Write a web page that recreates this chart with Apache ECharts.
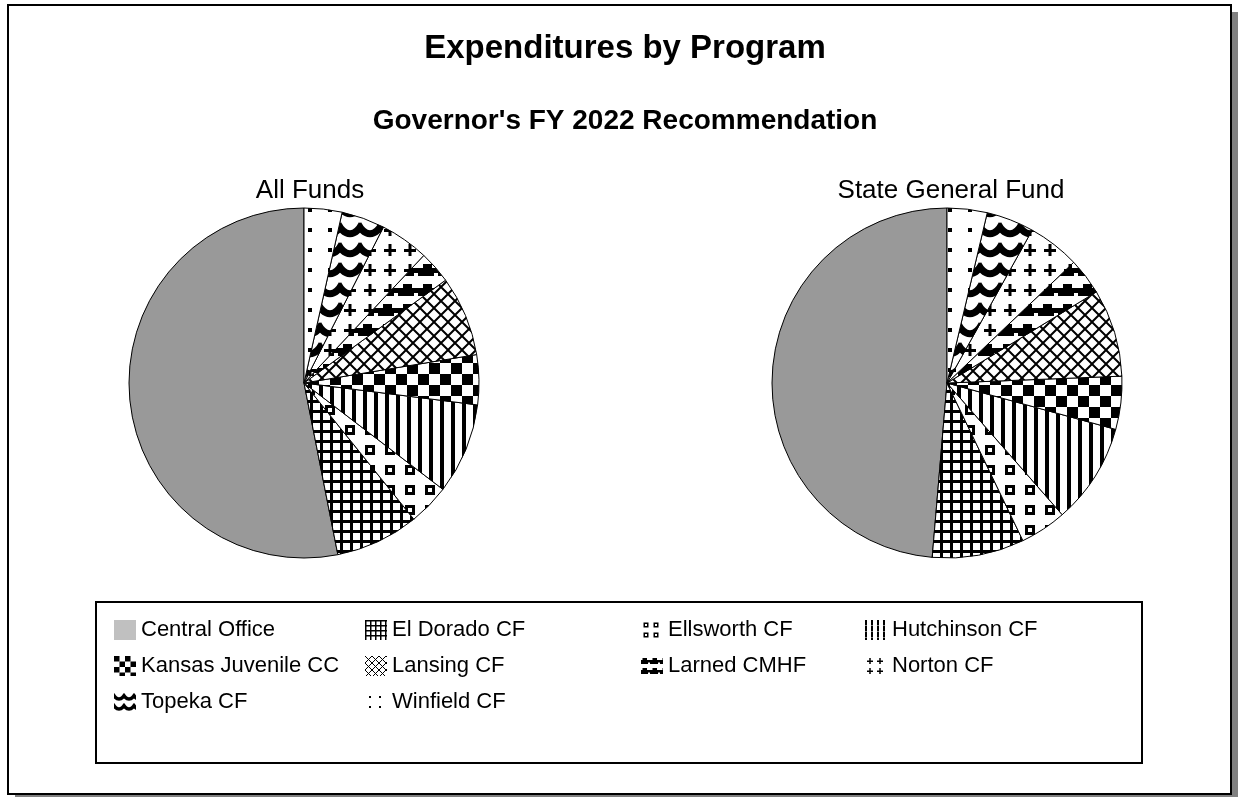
<!DOCTYPE html>
<html>
<head>
<meta charset="utf-8">
<script src="https://cdn.jsdelivr.net/npm/echarts@6/dist/echarts.min.js"></script>
<style>
html,body{margin:0;padding:0;background:#fff;}
#chart{width:1239px;height:797px;}
</style>
</head>
<body>
<div id="chart"></div>
<script>
// ---- data ----
const categories = ['Central Office','El Dorado CF','Ellsworth CF','Hutchinson CF','Kansas Juvenile CC','Lansing CF','Larned CMHF','Norton CF','Topeka CF','Winfield CF'];
const allFunds = [53.1, 7.7, 3.8, 8.4, 4.6, 7.4, 3.0, 4.5, 4.0, 3.5];
const stateGeneralFund = [48.7, 8.5, 4.3, 9.3, 4.9, 8.1, 3.4, 4.8, 4.4, 3.7];
const mainTitle = 'Expenditures by Program';
const subTitle = "Governor's FY 2022 Recommendation";
const pieTitles = ['All Funds', 'State General Fund'];
const legendColumns = [
  ['Central Office', 'Kansas Juvenile CC', 'Topeka CF'],
  ['El Dorado CF', 'Lansing CF', 'Winfield CF'],
  ['Ellsworth CF', 'Larned CMHF'],
  ['Hutchinson CF', 'Norton CF']
];

// ---- patterns ----
function tile(w, h, draw, s) {
  const c = document.createElement('canvas');
  c.width = Math.max(1, Math.round(w * s));
  c.height = Math.max(1, Math.round(h * s));
  const g = c.getContext('2d');
  g.fillStyle = '#fff'; g.fillRect(0, 0, c.width, c.height);
  g.scale(s, s);
  g.fillStyle = '#000'; g.strokeStyle = '#000';
  draw(g);
  return { image: c, repeat: 'repeat' };
}
const drawers = {
  'El Dorado CF': [10, 10, g => { g.fillRect(0, 0, 10, 3); g.fillRect(0, 0, 3, 10); }],
  'Ellsworth CF': [20, 20, g => { g.fillRect(5, 5, 10, 10); g.fillStyle = '#fff'; g.fillRect(8, 8, 4, 4); }],
  'Hutchinson CF': [11, 11, g => { g.fillRect(0, 0, 4, 11); }],
  'Kansas Juvenile CC': [22, 22, g => { g.fillRect(0, 0, 11, 11); g.fillRect(11, 11, 11, 11); }],
  'Lansing CF': [14, 14, g => { g.lineWidth = 2; g.beginPath(); g.moveTo(0, 0); g.lineTo(14, 14); g.moveTo(14, 0); g.lineTo(0, 14); g.stroke(); }],
  'Larned CMHF': [20, 20, g => { g.fillRect(0, 8, 20, 8); g.fillRect(3, 4, 9, 4); g.fillStyle = '#fff'; g.fillRect(14, 13, 4, 3); }],
  'Norton CF': [20, 20, g => { g.fillRect(4, 9, 12, 3); g.fillRect(8.5, 4, 3, 12); }],
  'Topeka CF': [20, 20, g => { g.lineWidth = 7; g.beginPath(); g.moveTo(-2, 4); g.bezierCurveTo(5, 17, 15, 17, 22, 4); g.stroke(); }],
  'Winfield CF': [20, 20, g => { g.fillRect(8, 8, 4, 4); }]
};
function fillFor(name, s, legend) {
  if (name === 'Central Office') return legend ? '#c0c0c0' : '#999999';
  const d = drawers[name];
  return tile(d[0], d[1], d[2], s);
}

const FONT = '"Liberation Sans", Arial, sans-serif';

function pieSeries(values, center) {
  return {
    type: 'pie',
    center: center,
    radius: 175,
    startAngle: 90,
    clockwise: false,
    animation: false,
    label: { show: false },
    labelLine: { show: false },
    emphasis: { disabled: true },
    itemStyle: { borderColor: '#000', borderWidth: 1 },
    data: categories.map((c, i) => ({ name: c, value: values[i], itemStyle: { color: fillFor(c, 1, false) } }))
  };
}

const legendLefts = [109, 360, 636, 860];
const legends = legendColumns.map((col, k) => ({
  orient: 'vertical',
  left: legendLefts[k],
  top: 614,
  itemWidth: 22,
  itemHeight: 20,
  itemGap: 14,
  selectedMode: false,
  icon: 'rect',
  itemStyle: { borderWidth: 0 },
  textStyle: { fontFamily: FONT, fontSize: 22, color: '#000', lineHeight: 22 },
  data: col.map(n => ({ name: n, itemStyle: { color: fillFor(n, 0.5, true), borderWidth: 0 } }))
}));

const chart = echarts.init(document.getElementById('chart'), null, { renderer: 'canvas' });
chart.setOption({
  backgroundColor: '#fff',
  animation: false,
  graphic: [
    { type: 'rect', z: -10, silent: true, shape: { x: 15, y: 12, width: 1223, height: 789 }, style: { fill: '#808080' } },
    { type: 'rect', z: -9, silent: true, shape: { x: 8, y: 5, width: 1223, height: 789 }, style: { fill: '#fff', stroke: '#000', lineWidth: 2 } },
    { type: 'rect', z: -8, silent: true, shape: { x: 96, y: 602, width: 1046, height: 161 }, style: { fill: '#fff', stroke: '#000', lineWidth: 2 } }
  ],
  title: [
    { text: mainTitle, left: 620, top: 27, textAlign: 'center', textStyle: { fontFamily: FONT, fontSize: 33, fontWeight: 'bold', color: '#000' } },
    { text: subTitle, left: 620, top: 102, textAlign: 'center', textStyle: { fontFamily: FONT, fontSize: 28, fontWeight: 'bold', color: '#000' } },
    { text: pieTitles[0], left: 305, top: 173, textAlign: 'center', textStyle: { fontFamily: FONT, fontSize: 26, fontWeight: 'normal', color: '#000' } },
    { text: pieTitles[1], left: 946, top: 173, textAlign: 'center', textStyle: { fontFamily: FONT, fontSize: 26, fontWeight: 'normal', color: '#000' } }
  ],
  legend: legends,
  series: [
    pieSeries(allFunds, [304, 383]),
    pieSeries(stateGeneralFund, [947, 383])
  ]
});
</script>
</body>
</html>
